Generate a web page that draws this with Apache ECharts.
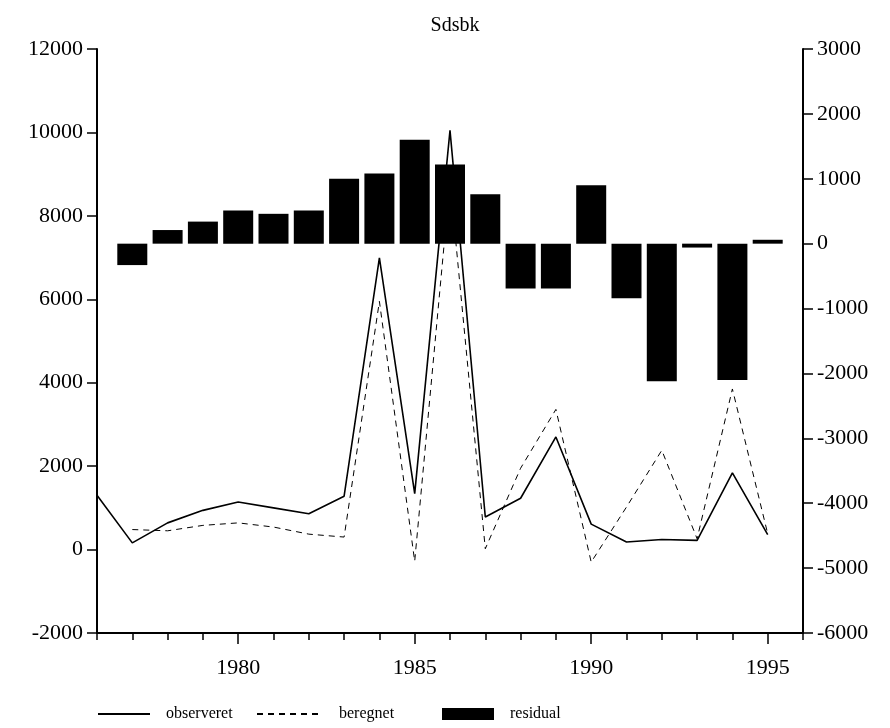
<!DOCTYPE html>
<html style="height: 100%">
<head>
<meta charset="utf-8">
</head>
<body style="height: 100%; margin: 0; background: #fff">
	<div id="container" style="width: 890px; height: 728px"></div>
	<script type="text/javascript" src="https://cdn.jsdelivr.net/npm/echarts@6/dist/echarts.min.js"></script>
	<script type="text/javascript">
		// data
		var obsYears = [1976, 1977, 1978, 1979, 1980, 1981, 1982, 1983, 1984, 1985,
			1986, 1987, 1988, 1989, 1990, 1991, 1992, 1993, 1994, 1995];
		var observeret = [1300, 160, 640, 940, 1140, 1000, 860, 1280, 6990, 1340,
			10050, 780, 1230, 2700, 610, 180, 240, 220, 1840, 360];
		var calcYears = [1977, 1978, 1979, 1980, 1981, 1982, 1983, 1984, 1985, 1986,
			1987, 1988, 1989, 1990, 1991, 1992, 1993, 1994, 1995];
		var beregnet = [480, 450, 580, 640, 540, 370, 300, 5950, -280, 8830,
			20, 1950, 3360, -300, 1020, 2380, 260, 3850, 380];
		var residual = [-330, 210, 340, 510, 460, 510, 1000, 1080, 1600, 1220,
			760, -690, -690, 900, -840, -2120, -60, -2100, 60];
		var yearLabels = [1980, 1985, 1990, 1995];

		function pairs(xs, ys) {
			var out = [];
			for (var i = 0; i < xs.length; i++) {
				out.push([xs[i], ys[i]]);
			}
			return out;
		}
		function plain(v) {
			return String(v);
		}

		var font = 'Liberation Serif';
		var legendText = {fontFamily: font, fontSize: 16, color: '#000', padding: [0, 0, 0, 11]};

		var dom = document.getElementById("container");
		var myChart = echarts.init(dom);
		var option = {
			animation: false,
			title: {
				text: 'Sdsbk',
				left: 450,
				textAlign: 'center',
				top: 11,
				textStyle: {fontFamily: font, fontWeight: 'normal', fontSize: 20, color: '#000'}
			},
			grid: {left: 97, right: 87, top: 49, bottom: 95},
			legend: [
				{
					data: ['observeret'], left: 92, top: 701,
					itemWidth: 52, itemHeight: 12, itemGap: 0,
					itemStyle: {opacity: 0},
					textStyle: legendText
				},
				{
					data: ['beregnet'], left: 251, top: 701,
					itemWidth: 66, itemHeight: 12, itemGap: 0,
					itemStyle: {opacity: 0},
					textStyle: legendText
				},
				{
					data: [{name: 'residual', icon: 'rect'}], left: 437, top: 701,
					itemWidth: 52, itemHeight: 12, itemGap: 0,
					textStyle: legendText
				}
			],
			xAxis: [
				{
					type: 'value', min: 1976, max: 1996, interval: 1,
					splitLine: {show: false},
					axisLine: {onZero: false, lineStyle: {color: '#000', width: 2}},
					axisTick: {length: 7, lineStyle: {color: '#000', width: 1.5}},
					axisLabel: {
						customValues: yearLabels, margin: 24, formatter: plain,
						fontFamily: font, fontSize: 22, color: '#000'
					}
				},
				{
					type: 'value', min: 1976, max: 1996, position: 'bottom',
					splitLine: {show: false},
					axisLine: {show: false, onZero: false},
					axisTick: {customValues: yearLabels, length: 11, lineStyle: {color: '#000', width: 1.5}},
					axisLabel: {show: false}
				}
			],
			yAxis: [
				{
					type: 'value', min: -2000, max: 12000, interval: 2000,
					splitLine: {show: false},
					axisLine: {show: true, onZero: false, lineStyle: {color: '#000', width: 2}},
					axisTick: {show: true, length: 10, lineStyle: {color: '#000', width: 1.5}},
					axisLabel: {margin: 14, formatter: plain, fontFamily: font, fontSize: 22, color: '#000'}
				},
				{
					type: 'value', min: -6000, max: 3000, interval: 1000, position: 'right',
					splitLine: {show: false},
					axisLine: {show: true, onZero: false, lineStyle: {color: '#000', width: 2}},
					axisTick: {show: true, length: 10, lineStyle: {color: '#000', width: 1.5}},
					axisLabel: {margin: 14, formatter: plain, fontFamily: font, fontSize: 22, color: '#000'}
				}
			],
			series: [
				{
					name: 'observeret', type: 'line', yAxisIndex: 0, symbol: 'none',
					lineStyle: {color: '#000', width: 1.6},
					itemStyle: {color: '#000'},
					data: pairs(obsYears, observeret), z: 2
				},
				{
					name: 'beregnet', type: 'line', yAxisIndex: 0, symbol: 'none',
					lineStyle: {color: '#000', width: 1, type: [6, 5]},
					itemStyle: {color: '#000'},
					data: pairs(calcYears, beregnet), z: 2
				},
				{
					name: 'residual', type: 'bar', yAxisIndex: 1, barWidth: 30,
					itemStyle: {color: '#000'},
					data: pairs(calcYears, residual), z: 3
				}
			]
		};
		myChart.setOption(option);
	</script>
</body>
</html>
